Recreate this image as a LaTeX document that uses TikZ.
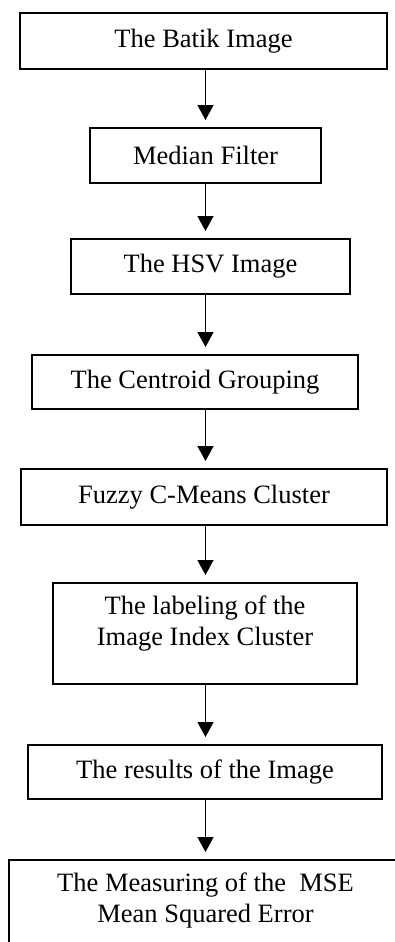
\documentclass[tikz,border=0pt]{standalone}
\usepackage{fontspec}
\setmainfont{Liberation Serif}
\usetikzlibrary{arrows.meta,positioning}

\begin{document}
\begin{tikzpicture}[x=0.5pt,y=-0.5pt,
  stepbox/.style={rectangle, draw, line width=1pt, inner sep=0pt, align=center,
    minimum height=27.5pt, font=\fontsize{13.25}{15.5}\selectfont},
  tallbox/.style={stepbox, minimum height=50.5pt, text depth=12.5pt},
  flow/.style={-{Triangle[width=8pt,length=7.5pt]}, line width=0.75pt, shorten >=3.5pt}]
\path[use as bounding box, clip] (0,0) rectangle (395,942);
\coordinate (spine) at (205.5,0);

\node (batik) [stepbox, anchor=north, minimum width=183.5pt, minimum height=28pt] at (203.5,12) {The Batik Image};
\node (median) [stepbox, below=28.5pt of batik, xshift=1pt, minimum width=115.5pt] {Median Filter};
\node (hsv) [stepbox, below=27pt of median, xshift=2.5pt, minimum width=139.5pt] {The HSV Image};
\node (centroid) [stepbox, below=29.5pt of hsv, xshift=-7.75pt, minimum width=163pt, minimum height=27pt] {The Centroid Grouping};
\node (fcm) [stepbox, below=29pt of centroid, xshift=4.5pt, minimum width=183pt, minimum height=28pt] {Fuzzy C-Means Cluster};
\node (labeling) [tallbox, below=28pt of fcm, xshift=0.5pt, minimum width=152pt] {The labeling of the\\Image Index Cluster};
\node (results) [stepbox, below=29.5pt of labeling, minimum width=177pt, minimum height=27pt] {The results of the Image};
\node (mse) [tallbox, below=29.5pt of results, xshift=0.25pt, minimum width=197pt] {The Measuring of the\ \ MSE\\Mean Squared Error};

\draw [flow] (batik.south -| spine) -- (median.north -| spine);
\draw [flow] (median.south -| spine) -- (hsv.north -| spine);
\draw [flow] (hsv.south -| spine) -- (centroid.north -| spine);
\draw [flow] (centroid.south -| spine) -- (fcm.north -| spine);
\draw [flow] (fcm.south -| spine) -- (labeling.north -| spine);
\draw [flow] (labeling.south -| spine) -- (results.north -| spine);
\draw [flow] (results.south -| spine) -- (mse.north -| spine);
\end{tikzpicture}
\end{document}
